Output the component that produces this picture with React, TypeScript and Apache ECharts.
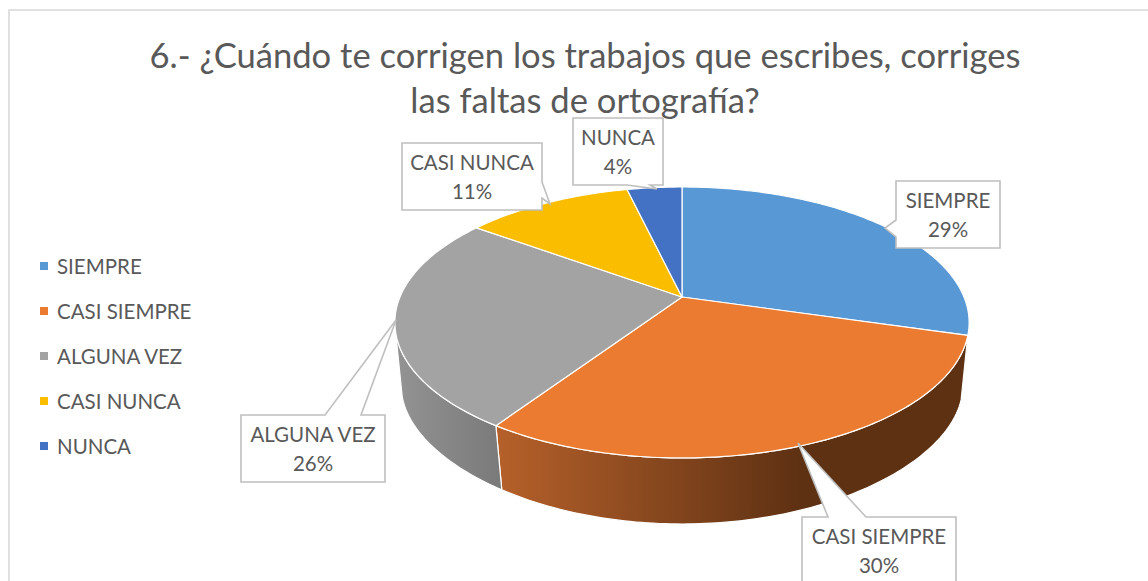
import React, { useEffect, useRef } from "react";
import * as echarts from "echarts";

const TITLE = "6.- ¿Cuándo te corrigen los trabajos que escribes, corriges\nlas faltas de ortografía?";
const categories = ["SIEMPRE", "CASI SIEMPRE", "ALGUNA VEZ", "CASI NUNCA", "NUNCA"];
const percents = [29.49, 29.91, 25.6, 11.3, 3.7];
const colors = ["#5898d4", "#ea7b31", "#a3a3a3", "#fbbd00", "#4371c3"];

const FONT = "Lato, 'Noto Sans', sans-serif";
const TEXT = "#595959";

// Perspective projection of the pie disc
const CX = 682;
const CY = 297;
const TOP = { a: 282, c: 130.7, k: 0.188, kx: 0.188, dy: 0 };
const BOTTOM = { a: 276.4, c: 120, k: 0.25, kx: 0.1757, dy: 67 };
const LEFT_SILHOUETTE = 255;
const RIGHT_SILHOUETTE = 100;

const project = (deg: number, p: typeof TOP) => {
  const r = (deg * Math.PI) / 180;
  const X = Math.sin(r);
  const Y = -Math.cos(r);
  return [CX + (p.a * X) / (1 - p.kx * Y), CY + (p.c * Y) / (1 - p.k * Y) + p.dy];
};

const arc = (from: number, to: number, p: typeof TOP) => {
  const pts: number[][] = [];
  const n = Math.max(2, Math.ceil(Math.abs(to - from)));
  for (let i = 0; i <= n; i++) pts.push(project(from + ((to - from) * i) / n, p));
  return pts;
};

const wallFill = [
  null,
  {
    type: "linear", global: true, x: 500, y: 0, x2: 800, y2: 0,
    colorStops: [{ offset: 0, color: "#b5602a" }, { offset: 1, color: "#5e3113" }],
  },
  {
    type: "linear", global: true, x: 400, y: 0, x2: 505, y2: 0,
    colorStops: [{ offset: 0, color: "#929292" }, { offset: 1, color: "#797979" }],
  },
  null,
  null,
];

// Callout shapes: box [x0, y0, x1, y1] and pointer (base-a, tip, base-b) placed on one edge
const callouts = [
  { box: [896, 181, 1000, 248], edge: "left", base: [220, 237], tip: [885, 228] },
  { box: [802, 517, 956, 584], edge: "top", base: [828, 866], tip: [798, 443] },
  { box: [241, 415, 385, 482], edge: "top", base: [325, 361], tip: [396, 320] },
  { box: [402, 143, 542, 210], edge: "right", base: [182, 198], tip: [550, 204] },
  { box: [573, 118, 663, 185], edge: "bottom", base: [627, 650], tip: [657, 189] },
];

const calloutPoints = (c: (typeof callouts)[number]) => {
  const [x0, y0, x1, y1] = c.box;
  const [a, b] = c.base;
  if (c.edge === "left") return [[x0, y0], [x1, y0], [x1, y1], [x0, y1], [x0, b], c.tip, [x0, a]];
  if (c.edge === "right") return [[x0, y0], [x1, y0], [x1, a], c.tip, [x1, b], [x1, y1], [x0, y1]];
  if (c.edge === "top") return [[x0, y0], [a, y0], c.tip, [b, y0], [x1, y0], [x1, y1], [x0, y1]];
  return [[x0, y0], [x1, y0], [x1, y1], [b, y1], c.tip, [a, y1], [x0, y1]];
};

const sliceSeries = categories.map((name, i) => {
  const start = percents.slice(0, i).reduce((s, v) => s + v, 0);
  return {
    type: "custom",
    name,
    coordinateSystem: "none",
    silent: true,
    z: 2,
    itemStyle: { color: colors[i] },
    data: [[percents[i], start]],
    renderItem: (_: any, api: any) => {
      const from = (api.value(1) / 100) * 360;
      const to = from + (api.value(0) / 100) * 360;
      const children: any[] = [];
      const wTo = Math.min(to, LEFT_SILHOUETTE);
      const wFrom = Math.max(from, RIGHT_SILHOUETTE);
      if (wallFill[i] && wTo > wFrom) {
        children.push({
          type: "polygon",
          shape: { points: [...arc(wFrom, wTo, TOP), ...arc(wTo, wFrom, BOTTOM)] },
          style: { fill: wallFill[i], stroke: "#ffffff", lineWidth: 1.2 },
        });
      }
      children.push({
        type: "polygon",
        shape: { points: [[CX, CY], ...arc(from, to, TOP)] },
        style: { fill: colors[i], stroke: "#ffffff", lineWidth: 1.2, lineJoin: "round" },
      });
      return { type: "group", children };
    },
  };
});

const labelSeries = {
  type: "custom",
  coordinateSystem: "none",
  silent: true,
  z: 5,
  data: percents.map((v) => [v]),
  renderItem: (params: any, api: any) => {
    const c = callouts[params.dataIndex];
    const [x0, y0, x1, y1] = c.box;
    return {
      type: "group",
      children: [
        {
          type: "polygon",
          shape: { points: calloutPoints(c) },
          style: { fill: "#ffffff", stroke: "#bfbfbf", lineWidth: 1.6 },
        },
        {
          type: "text",
          style: {
            text: `${categories[params.dataIndex]}\n${Math.round(api.value(0))}%`,
            x: (x0 + x1) / 2,
            y: (y0 + y1) / 2,
            align: "center",
            verticalAlign: "middle",
            fontSize: 20.5,
            fontFamily: FONT,
            lineHeight: 29,
            fill: TEXT,
          },
        },
      ],
    };
  },
};

export default function App() {
  const ref = useRef<HTMLDivElement>(null);
  useEffect(() => {
    const chart = echarts.init(ref.current!, null, { renderer: "svg" });
    chart.setOption({
      animation: false,
      backgroundColor: "#ffffff",
      title: {
        text: TITLE,
        left: 580,
        top: 27,
        textAlign: "center",
        z: 0,
        textStyle: { fontFamily: FONT, fontSize: 34.6, fontWeight: "normal", color: TEXT, lineHeight: 45 },
      },
      legend: {
        orient: "vertical",
        left: 35,
        top: 249,
        icon: "rect",
        itemWidth: 8,
        itemHeight: 8,
        itemGap: 21,
        data: categories,
        selectedMode: false,
        textStyle: { fontFamily: FONT, fontSize: 20.5, color: TEXT, lineHeight: 24, padding: [0, 0, 0, 4] },
      },
      graphic: [
        {
          type: "rect",
          z: -1,
          silent: true,
          shape: { x: 9, y: 10, width: 1300, height: 700 },
          style: { fill: "none", stroke: "#d9d9d9", lineWidth: 1.6 },
        },
      ],
      series: [...sliceSeries, labelSeries],
    });
    return () => chart.dispose();
  }, []);
  return <div ref={ref} style={{ position: "fixed", left: 0, top: 0, width: 1148, height: 581 }} />;
}
